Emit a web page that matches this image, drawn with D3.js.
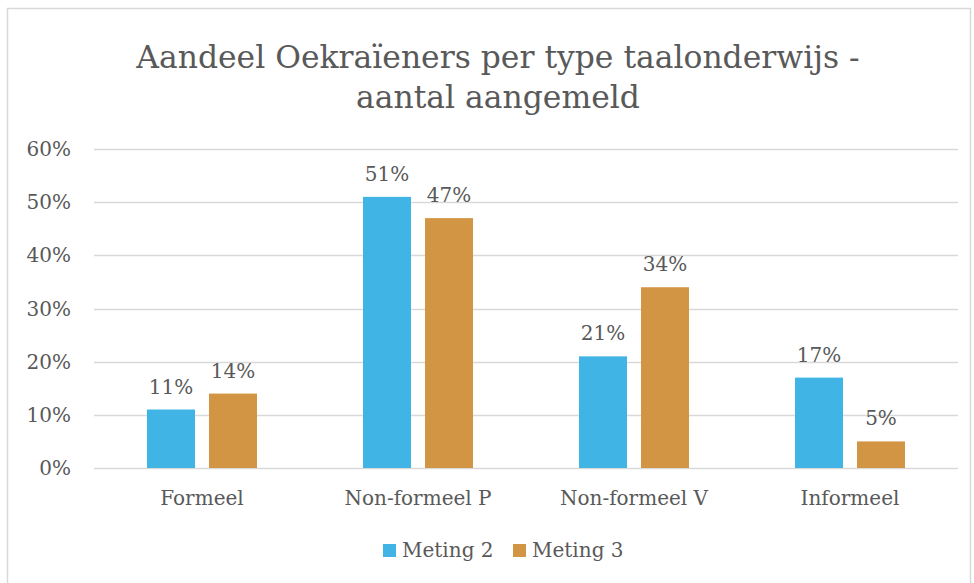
<!DOCTYPE html>
<html>
<head>
<meta charset="utf-8">
<script src="https://cdn.jsdelivr.net/npm/d3@7"></script>
<style>
  body { margin: 0; background: #fff; }
  text { font-family: "DejaVu Serif", serif; fill: #595959; }
</style>
</head>
<body>
<div id="chart"></div>
<script>
const categories = ["Formeel", "Non-formeel P", "Non-formeel V", "Informeel"];
const seriesNames = ["Meting 2", "Meting 3"];
const meting2 = [0.11, 0.51, 0.21, 0.17];
const meting3 = [0.14, 0.47, 0.34, 0.05];
const yTicks = [0, 0.1, 0.2, 0.3, 0.4, 0.5, 0.6];
const colors = ["#41b4e6", "#d29543"];

const width = 974, height = 583;
const plotLeft = 94, plotRight = 958, plotTop = 149, plotBottom = 468;

const svg = d3.select("#chart").append("svg")
    .attr("width", width)
    .attr("height", height);

// chart border
svg.append("rect")
    .attr("x", 7.5).attr("y", 8.5)
    .attr("width", 963).attr("height", 590)
    .attr("fill", "none")
    .attr("stroke", "#d9d9d9")
    .attr("stroke-width", 1.5);

// title
svg.append("text")
    .attr("x", 498).attr("y", 68)
    .attr("text-anchor", "middle")
    .style("font-size", "31.4px")
    .text("Aandeel Oekraïeners per type taalonderwijs -");
svg.append("text")
    .attr("x", 498).attr("y", 108)
    .attr("text-anchor", "middle")
    .style("font-size", "31.4px")
    .text("aantal aangemeld");

const x = d3.scaleBand().domain(categories).range([plotLeft, plotRight]);
const y = d3.scaleLinear().domain([0, 0.6]).range([plotBottom, plotTop]);
// bars 48 wide with a 14px gap inside each group
const xSub = d3.scaleBand().domain(seriesNames).range([-55, 55]).paddingInner(14 / 62);

// gridlines
svg.append("g").selectAll("line")
    .data(yTicks)
    .enter().append("line")
    .attr("x1", plotLeft).attr("x2", plotRight)
    .attr("y1", d => Math.round(y(d)) + 0.5)
    .attr("y2", d => Math.round(y(d)) + 0.5)
    .attr("stroke", "#d9d9d9")
    .attr("stroke-width", 1.5);

// y tick labels
svg.append("g").selectAll("text")
    .data(yTicks)
    .enter().append("text")
    .attr("x", 71)
    .attr("y", d => y(d) + 7)
    .attr("text-anchor", "end")
    .style("font-size", "20px")
    .text(d => d3.format(".0%")(d));

const rows = categories.map((c, i) => ({ cat: c, vals: [meting2[i], meting3[i]] }));

const groups = svg.append("g").selectAll("g")
    .data(rows)
    .enter().append("g")
    .attr("transform", d => "translate(" + (x(d.cat) + x.bandwidth() / 2) + ",0)");

groups.selectAll("rect")
    .data(d => d.vals.map((v, j) => ({ name: seriesNames[j], v: v, j: j })))
    .enter().append("rect")
    .attr("x", d => xSub(d.name))
    .attr("width", xSub.bandwidth())
    .attr("y", d => y(d.v))
    .attr("height", d => plotBottom - y(d.v))
    .attr("fill", d => colors[d.j]);

groups.selectAll("text")
    .data(d => d.vals.map((v, j) => ({ name: seriesNames[j], v: v })))
    .enter().append("text")
    .attr("x", d => xSub(d.name) + xSub.bandwidth() / 2)
    .attr("y", d => y(d.v) - 16)
    .attr("text-anchor", "middle")
    .style("font-size", "20px")
    .text(d => d3.format(".0%")(d.v));

// category labels
svg.append("g").selectAll("text")
    .data(categories)
    .enter().append("text")
    .attr("x", d => x(d) + x.bandwidth() / 2)
    .attr("y", 505)
    .attr("text-anchor", "middle")
    .style("font-size", "20px")
    .text(d => d);

// legend
const legend = svg.append("g").selectAll("g")
    .data(seriesNames)
    .enter().append("g")
    .attr("transform", (d, i) => "translate(" + (383 + i * 130) + ",544)");
legend.append("rect")
    .attr("width", 13).attr("height", 13)
    .attr("fill", (d, i) => colors[i]);
legend.append("text")
    .attr("x", 19).attr("y", 13)
    .style("font-size", "20px")
    .text(d => d);
</script>
</body>
</html>
